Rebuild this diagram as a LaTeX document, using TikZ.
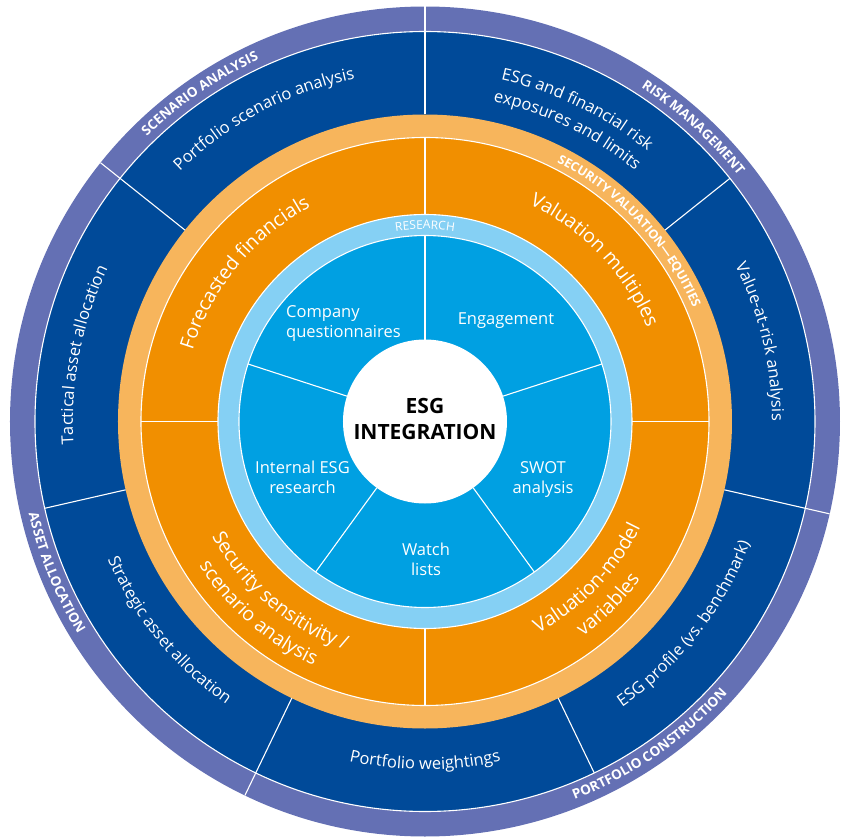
\documentclass[tikz,border=0pt]{standalone}
\usepackage{fontspec}
\setmainfont{Open Sans}
\usetikzlibrary{decorations.text}

\definecolor{ringpurple}{HTML}{6470B4}
\definecolor{ringnavy}{HTML}{004A99}
\definecolor{ringpeach}{HTML}{F7B55C}
\definecolor{ringorange}{HTML}{F18F00}
\definecolor{ringsky}{HTML}{85D0F4}
\definecolor{ringblue}{HTML}{00A0E2}

% text on a circular arc around the hub, reading clockwise (letters point outward)
\newcommand\arctop[4]{%
  \pgfmathsetmacro\arcA{#1+40}\pgfmathsetmacro\arcB{#1-40}%
  \path[decorate,decoration={text along path,text align=center,text color=white,
        text={|#3|#4}}]
    (\arcA:#2pt) arc[start angle=\arcA,end angle=\arcB,radius=#2pt];}
% text on a circular arc, reading counter-clockwise (letters point inward)
\newcommand\arcbot[4]{%
  \pgfmathsetmacro\arcA{#1+40}\pgfmathsetmacro\arcB{#1-40}%
  \path[decorate,decoration={text along path,text align=center,text color=white,
        text={|#3|#4}}]
    (\arcB:#2pt) arc[start angle=\arcB,end angle=\arcA,radius=#2pt];}

\newcommand\capsfont{\bfseries\fontsize{13.5}{16}\selectfont}
\newcommand\bandfont{\fontsize{16.5}{19}\selectfont}
\newcommand\bigfont{\fontsize{19.5}{23}\selectfont}

\begin{document}
\begin{tikzpicture}[x=1pt,y=1pt,
  seam/.style={draw=white,line width=1.1pt},
  divider/.style={draw=white,line width=1.1pt},
  core/.style={text=white,font=\fontsize{16.5}{19.5}\selectfont,align=center,inner sep=0pt}]
\useasboundingbox (-425,-417.5) rectangle (422,421.5);

% concentric rings
\fill[ringpurple] (0,0) circle[radius=415pt];
\fill[ringnavy]   (0,0) circle[radius=390pt];
\fill[ringpeach]  (0,0) circle[radius=307pt];
\fill[ringorange] (0,0) circle[radius=284pt];
\fill[ringsky]    (0,0) circle[radius=207pt];
\fill[ringblue]   (0,0) circle[radius=186pt];
\fill[white]      (0,0) circle[radius=82pt];

% white seams between rings
\foreach \r in {390,284,207,186} \draw[seam] (0,0) circle[radius=\r pt];

% radial dividers
\foreach \a in {90,141.4286,244.2857,347.1429} \draw[divider] (\a:390pt) -- (\a:415pt);
\foreach \k in {0,...,6} \draw[divider] ({90+51.42857*\k}:307pt) -- ({90+51.42857*\k}:390pt);
\foreach \a in {0,90,180,270} \draw[divider] (\a:207pt) -- (\a:284pt);
\foreach \a in {18,90,162,234,306} \draw[divider] (\a:82pt) -- (\a:186pt);

% outer category band
\arctop{124.5}{398}{\capsfont}{SCENARIO ANALYSIS}
\arctop{47.6}{398}{\capsfont}{RISK MANAGEMENT}
\arcbot{202.3}{407}{\capsfont}{ASSET ALLOCATION}
\arcbot{-55.2}{407}{\capsfont}{PORTFOLIO CONSTRUCTION}

% portfolio-level activities
\arctop{118}{350}{\bandfont}{Portfolio scenario analysis}
\arctop{64}{350}{\bandfont}{ESG and financial risk}
\arctop{64}{327}{\bandfont}{exposures and limits}
\arctop{13.4}{347}{\bandfont}{Value-at-risk analysis}
\arctop{169}{352}{\bandfont}{Tactical asset allocation}
\arcbot{-38}{347}{\bandfont}{ESG profile (vs. benchmark)}
\arcbot{-90}{348}{\bandfont}{Portfolio weightings}
\arcbot{219.2}{346}{\bandfont}{Strategic asset allocation}

% security valuation band
\arctop{43}{291}{\bfseries\fontsize{12.5}{15}\selectfont}{SECURITY VALUATION—EQUITIES}
\arctop{140.5}{243}{\bigfont}{Forecasted financials}
\arctop{43.6}{241}{\bigfont}{Valuation multiples}
\arcbot{229.5}{242}{\bigfont}{Security sensitivity /}
\arcbot{229}{268}{\bigfont}{scenario analysis}
\arcbot{-44}{240}{\bigfont}{Valuation-model}
\arcbot{-45}{267}{\bigfont}{variables}

% research band
\arctop{90}{192.5}{\fontsize{12}{14}\selectfont}{RESEARCH}

% research activities (anchored at the baseline of their last line)
\node[core,align=left,anchor=base west] (cq) at (-139,84.5) {Company\\questionnaires};
\node[core,anchor=base] (eng) at (81,97.5) {Engagement};
\node[core,anchor=base] (int) at (-122.5,-71.5) {Internal ESG\\research};
\node[core,anchor=base] (swot) at (118,-71.5) {SWOT\\analysis};
\node[core,anchor=base] (watch) at (1,-153.5) {Watch\\lists};

% hub
\node[anchor=base,inner sep=0pt,align=center,text=black,
      font=\bfseries\fontsize{21}{26}\selectfont] (hub) at (0,-17.5) {ESG\\INTEGRATION};
\end{tikzpicture}
\end{document}
